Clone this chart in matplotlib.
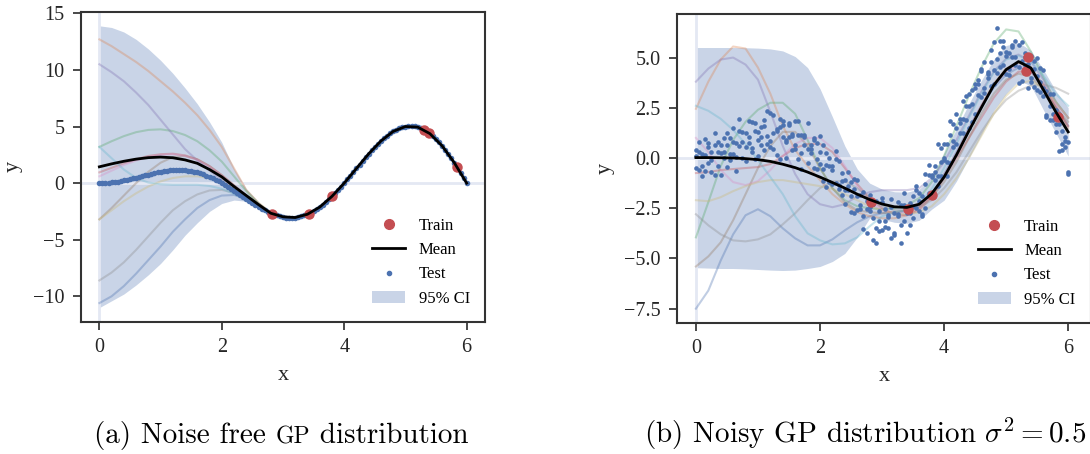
import matplotlib
matplotlib.use("Agg")
import matplotlib.pyplot as plt
from matplotlib.lines import Line2D
from matplotlib.patches import Patch

plt.rcParams.update({
    "font.family": ["Liberation Serif", "DejaVu Serif"],
    "mathtext.fontset": "cm",
    "axes.unicode_minus": True,
})

# ---------------- data ----------------
grid_x = [0.0, 0.2, 0.4, 0.6, 0.8, 1.0, 1.2, 1.4, 1.6, 1.8, 2.0, 2.2, 2.4, 2.6, 2.8, 3.0,
          3.2, 3.4, 3.6, 3.8, 4.0, 4.2, 4.4, 4.6, 4.8, 5.0, 5.2, 5.4, 5.6, 5.8, 6.0]
sample_x_left = [0.0, 0.2, 0.4, 0.6, 0.8, 1.0, 1.2, 1.4, 1.6, 1.8, 2.0, 2.2, 2.4, 2.6, 2.8, 3.0]

test_x = [0.00, 0.05, 0.10, 0.15, 0.20, 0.25, 0.30, 0.35, 0.40, 0.45,
          0.50, 0.55, 0.60, 0.65, 0.70, 0.75, 0.80, 0.85, 0.90, 0.95,
          1.00, 1.05, 1.10, 1.15, 1.20, 1.25, 1.30, 1.35, 1.40, 1.45,
          1.50, 1.55, 1.60, 1.65, 1.70, 1.75, 1.80, 1.85, 1.90, 1.95,
          2.00, 2.05, 2.10, 2.15, 2.20, 2.25, 2.30, 2.35, 2.40, 2.45,
          2.50, 2.55, 2.60, 2.65, 2.70, 2.75, 2.80, 2.85, 2.90, 2.95,
          3.00, 3.05, 3.10, 3.15, 3.20, 3.25, 3.30, 3.35, 3.40, 3.45,
          3.50, 3.55, 3.60, 3.65, 3.70, 3.75, 3.80, 3.85, 3.90, 3.95,
          4.00, 4.05, 4.10, 4.15, 4.20, 4.25, 4.30, 4.35, 4.40, 4.45,
          4.50, 4.55, 4.60, 4.65, 4.70, 4.75, 4.80, 4.85, 4.90, 4.95,
          5.00, 5.05, 5.10, 5.15, 5.20, 5.25, 5.30, 5.35, 5.40, 5.45,
          5.50, 5.55, 5.60, 5.65, 5.70, 5.75, 5.80, 5.85, 5.90, 5.95,
          6.00]

# (a) noise free
left_test_y = [0.00, 0.00, 0.02, 0.04, 0.06, 0.10, 0.14, 0.18, 0.24, 0.29,
               0.35, 0.42, 0.49, 0.55, 0.62, 0.69, 0.76, 0.83, 0.89, 0.95,
               1.00, 1.05, 1.09, 1.12, 1.14, 1.15, 1.16, 1.15, 1.13, 1.10,
               1.06, 1.01, 0.94, 0.86, 0.77, 0.67, 0.56, 0.43, 0.30, 0.15,
               0.00, -0.16, -0.33, -0.50, -0.68, -0.86, -1.04, -1.23, -1.41, -1.59,
               -1.77, -1.94, -2.10, -2.26, -2.41, -2.54, -2.66, -2.77, -2.86, -2.94,
               -3.00, -3.04, -3.06, -3.06, -3.04, -3.00, -2.94, -2.86, -2.75, -2.62,
               -2.48, -2.31, -2.12, -1.91, -1.68, -1.44, -1.17, -0.90, -0.61, -0.31,
               0.00, 0.32, 0.64, 0.97, 1.30, 1.63, 1.95, 2.27, 2.59, 2.89,
               3.18, 3.46, 3.72, 3.96, 4.19, 4.39, 4.57, 4.72, 4.84, 4.93,
               5.00, 5.03, 5.04, 5.01, 4.95, 4.85, 4.72, 4.56, 4.37, 4.14,
               3.89, 3.60, 3.29, 2.95, 2.59, 2.20, 1.79, 1.37, 0.92, 0.47,
               0.00]
left_mean = [1.44, 1.70, 1.93, 2.12, 2.25, 2.30, 2.24, 2.05, 1.75, 1.20, 0.55, -0.30, -1.10,
             -1.90, -2.66, -2.98, -3.04, -2.75, -2.12, -1.17, 0.00, 1.30, 2.59, 3.72, 4.57,
             5.00, 4.95, 4.37, 3.29, 1.79, 0.00]
left_upper = [13.9, 13.75, 13.35, 12.7, 11.85, 10.85, 9.7, 8.4, 7.0, 5.4, 3.6, 1.3, -0.5,
              -1.65, -2.6, -2.93, -3.0, -2.7, -2.07, -1.12, 0.05, 1.35, 2.64, 3.77, 4.62,
              5.05, 5.0, 4.42, 3.34, 1.84, 0.05]
left_lower = [-11.0, -10.4, -9.8, -9.0, -8.1, -7.1, -5.9, -4.6, -3.5, -2.5, -1.8, -1.5, -1.6,
              -2.15, -2.72, -3.03, -3.09, -2.8, -2.17, -1.22, -0.05, 1.25, 2.54, 3.67, 4.52,
              4.95, 4.9, 4.32, 3.24, 1.74, -0.05]
left_samples = [
    [-10.6, -10.0, -9.1, -8.0, -6.8, -5.6, -4.3, -3.2, -2.2, -1.5, -1.1, -1.05, -1.35, -1.95, -2.63, -2.97],
    [12.7, 12.1, 11.4, 10.7, 9.9, 9.0, 8.1, 7.1, 6.0, 4.7, 3.2, 1.3, -0.6, -1.75, -2.6, -2.95],
    [3.2, 3.7, 4.15, 4.5, 4.7, 4.75, 4.6, 4.25, 3.7, 2.9, 1.9, 0.6, -0.7, -1.8, -2.6, -2.95],
    [0.95, 1.35, 1.75, 2.1, 2.4, 2.55, 2.6, 2.45, 2.1, 1.5, 0.7, -0.2, -1.1, -1.9, -2.62, -2.97],
    [10.5, 9.8, 9.0, 8.0, 6.9, 5.6, 4.3, 3.0, 2.0, 1.1, 0.3, -0.5, -1.2, -1.95, -2.63, -2.97],
    [-3.2, -2.2, -1.1, 0.0, 1.0, 1.8, 2.3, 2.4, 2.1, 1.5, 0.7, -0.2, -1.1, -1.9, -2.62, -2.97],
    [0.6, 1.1, 1.6, 2.0, 2.3, 2.5, 2.55, 2.4, 2.05, 1.45, 0.65, -0.25, -1.15, -1.95, -2.63, -2.97],
    [-8.6, -7.9, -7.0, -5.9, -4.7, -3.5, -2.4, -1.6, -1.0, -0.65, -0.6, -0.85, -1.35, -2.0, -2.63, -2.97],
    [-3.2, -2.4, -1.6, -0.9, -0.3, 0.15, 0.45, 0.6, 0.6, 0.45, 0.15, -0.5, -1.2, -1.95, -2.63, -2.97],
    [3.2, 2.2, 1.2, 0.45, 0.05, -0.1, -0.15, -0.15, -0.15, -0.25, -0.5, -0.95, -1.55, -2.15, -2.65, -2.97],
]
left_train_x = [2.82, 3.42, 3.80, 5.31, 5.38, 5.84]
left_train_y = [-2.71, -2.70, -1.17, 4.65, 4.45, 1.45]

# (b) noisy
right_test_y_a = [0.40, -0.60, 0.22, 0.94, -0.24, -0.70, 0.64, 0.28, -0.86, 0.99,
                  0.65, 0.22, 1.49, 0.05, 0.62, 1.29, -0.14, 1.03, 0.49, 1.75,
                  0.90, 1.55, 0.39, 2.32, 0.84, 1.25, 0.16, 1.55, 1.83, 0.90,
                  1.06, 0.41, 1.84, 1.16, -0.53, 1.17, 0.46, 0.63, -0.50, 0.75,
                  1.10, -0.56, -0.33, -1.20, -0.38, -0.06, -1.54, -1.13, -1.61, -0.69,
                  -2.67, -1.54, -1.90, -2.56, -1.71, -3.74, -2.66, -2.27, -3.46, -2.64,
                  -2.20, -3.14, -3.46, -2.06, -3.74, -2.80, -2.34, -3.16, -3.75, -2.22,
                  -2.38, -1.41, -2.62, -1.91, -2.48, -0.84, -0.87, -1.10, 0.69, -0.91,
                  -0.10, 0.72, -0.26, 1.67, 1.50, 1.23, 1.95, 3.07, 1.49, 3.39,
                  3.48, 3.16, 4.32, 3.26, 4.29, 5.39, 4.37, 4.22, 5.24, 5.83,
                  4.20, 5.23, 5.04, 4.61, 5.65, 3.85, 5.22, 4.66, 3.77, 4.44,
                  4.99, 3.30, 3.49, 2.05, 3.19, 2.20, 1.29, 2.17, 0.72, 0.87,
                  -0.70]
right_test_y_b = [-0.50, 0.30, -0.88, 0.14, 0.76, -0.10, 1.24, -0.42, 0.64, 0.29,
                  -0.45, 1.02, 0.19, 0.75, 1.92, -0.01, 1.26, 0.73, 1.79, -0.05,
                  1.30, 0.65, 1.89, 1.12, 0.54, 2.15, 1.36, -0.05, 1.63, 0.80,
                  1.76, 1.11, 0.44, -0.04, 1.17, 0.67, 1.76, 0.23, 0.90, -0.55,
                  -0.30, 0.64, -1.43, 0.00, -0.58, -1.26, -0.14, -1.83, -1.11, -1.59,
                  -1.17, -2.74, -1.10, -2.36, -2.91, -2.14, -2.46, -4.07, -2.16, -3.14,
                  -3.60, -2.54, -2.96, -3.96, -2.74, -2.20, -3.34, -1.76, -2.75, -3.32,
                  -1.88, -2.51, -1.72, -2.91, -0.78, -1.74, -0.97, -0.40, -1.41, -0.21,
                  0.70, -0.18, 1.84, 0.87, 0.70, 1.93, 2.85, 1.87, 2.59, 1.79,
                  3.68, 3.66, 3.02, 4.76, 3.99, 4.79, 3.67, 6.47, 5.84, 4.63,
                  5.30, 4.43, 5.64, 5.01, 3.75, 5.75, 4.62, 5.06, 3.97, 4.84,
                  3.39, 3.80, 4.39, 2.15, 2.59, 1.90, 2.39, 0.37, 1.32, 0.57,
                  0.80]
right_test_y_c = [0.10, 0.80, -0.38, -0.66, 0.56, 0.30, -0.86, 0.78, 0.24, -0.01,
                  1.25, -0.08, 0.79, -0.65, 1.32, 0.79, 0.56, 1.83, 0.29, 1.35,
                  0.10, 1.05, 1.59, 0.72, 2.24, 0.45, 1.46, 1.95, 1.03, 0.00,
                  1.66, 1.21, 0.64, 1.86, 0.27, 1.07, -0.24, 0.43, 1.00, -0.05,
                  0.30, -1.16, 0.27, -0.40, -1.28, 0.34, -1.34, -0.73, -2.31, -1.39,
                  -1.87, -1.04, -2.60, -1.86, -3.51, -2.54, -1.86, -2.97, -4.25, -3.64,
                  -2.00, -3.44, -2.86, -2.46, -3.84, -2.90, -4.24, -2.36, -2.45, -2.72,
                  -2.98, -1.61, -2.12, -2.81, -1.28, -0.34, -1.77, -0.70, -0.91, 0.49,
                  0.00, -0.88, 1.14, 0.57, 2.20, 1.73, 1.25, 2.57, 3.19, 2.69,
                  2.18, 3.86, 4.42, 3.46, 4.19, 3.59, 5.77, 4.92, 4.54, 5.53,
                  5.10, 4.13, 5.54, 5.81, 4.55, 4.85, 5.02, 3.46, 5.07, 3.54,
                  4.09, 4.50, 3.09, 3.35, 1.89, 3.20, 1.69, 1.67, 0.42, 1.07,
                  -0.80]
right_mean = [0.02, 0.02, 0.01, 0.00, -0.03, -0.08, -0.17, -0.31, -0.48, -0.70, -0.95, -1.22,
              -1.50, -1.80, -2.07, -2.29, -2.43, -2.46, -2.30, -1.78, -0.95, 0.15, 1.35, 2.50,
              3.62, 4.40, 4.80, 4.48, 3.40, 2.30, 1.30]
right_upper = [5.50, 5.50, 5.50, 5.50, 5.49, 5.47, 5.43, 5.33, 5.05, 4.50, 3.45, 2.05, 0.60,
               -0.55, -1.25, -1.55, -1.68, -1.70, -1.55, -1.00, 0.25, 1.45, 2.70, 3.85, 4.90,
               5.60, 5.75, 5.35, 4.40, 3.35, 2.50]
right_lower = [-5.46, -5.48, -5.50, -5.50, -5.52, -5.55, -5.58, -5.60, -5.58, -5.50, -5.40,
               -5.15, -4.75, -3.95, -3.00, -3.05, -3.20, -3.25, -3.10, -2.55, -2.10, -1.15,
               0.00, 1.15, 2.35, 3.20, 3.85, 3.60, 2.40, 1.25, 0.10]
right_samples = [
    [-7.5, -6.6, -5.1, -3.8, -2.85, -2.55, -2.9, -3.5, -4.0, -4.35, -4.35, -4.05, -3.6, -3.2, -2.9, -2.75,
     -2.7, -2.65, -2.4, -1.8, -0.8, 0.3, 1.5, 2.6, 3.5, 4.15, 4.5, 4.3, 3.5, 2.5, 1.6],
    [2.45, 3.8, 4.9, 5.55, 5.45, 4.5, 3.2, 1.6, 0.4, -0.4, -1.1, -1.8, -2.3, -2.7, -2.9, -3.0,
     -3.0, -2.85, -2.5, -1.85, -0.9, 0.2, 1.4, 2.6, 3.7, 4.45, 4.75, 4.5, 3.6, 2.5, 1.5],
    [-3.95, -2.2, -0.4, 0.9, 1.8, 2.4, 2.75, 2.75, 2.2, 0.9, -0.5, -1.5, -2.1, -2.4, -2.5, -2.55,
     -2.5, -2.35, -2.0, -1.2, 0.1, 1.6, 3.1, 4.5, 5.7, 6.4, 6.3, 5.3, 4.0, 2.8, 2.0],
    [-0.75, -0.7, -0.6, -0.55, -0.5, -0.45, -0.3, 0.1, 0.5, 0.7, 0.7, 0.3, -0.5, -1.3, -2.0, -2.5,
     -2.8, -2.85, -2.6, -1.95, -1.0, 0.0, 1.0, 2.0, 3.0, 3.8, 4.3, 4.3, 3.7, 2.6, 1.6],
    [3.8, 4.45, 4.9, 5.0, 4.65, 3.9, 2.3, 0.6, -0.8, -1.8, -2.3, -2.45, -2.3, -1.9, -1.7, -1.6,
     -1.6, -1.6, -1.5, -1.0, -0.2, 0.9, 2.1, 3.3, 4.3, 4.95, 5.15, 4.8, 3.9, 2.8, 2.0],
    [-5.4, -4.9, -4.2, -3.1, -1.8, -0.5, 0.6, 1.3, 1.3, 0.6, -0.5, -1.5, -2.2, -2.6, -2.7, -2.75,
     -2.7, -2.6, -2.4, -1.95, -1.2, -0.2, 1.0, 2.2, 3.2, 3.9, 4.2, 4.05, 3.4, 2.5, 1.8],
    [1.0, 0.3, -0.6, -1.2, -1.35, -1.15, -0.6, 0.1, 0.7, 1.0, 1.0, 0.5, -0.4, -1.4, -2.2, -2.6,
     -2.75, -2.7, -2.45, -1.85, -0.9, 0.2, 1.45, 2.6, 3.6, 4.3, 4.6, 4.35, 3.6, 2.7, 2.0],
    [-2.8, -3.35, -3.8, -4.1, -4.15, -4.05, -3.8, -3.3, -2.75, -2.1, -1.5, -1.15, -1.15, -1.5, -2.0, -2.4,
     -2.6, -2.6, -2.45, -2.1, -1.5, -0.7, 0.3, 1.3, 2.2, 2.9, 3.35, 3.6, 3.65, 3.5, 3.2],
    [-2.1, -2.15, -1.95, -1.65, -1.4, -1.2, -1.1, -1.1, -1.2, -1.3, -1.4, -1.55, -1.8, -2.1, -2.4, -2.6,
     -2.75, -2.8, -2.7, -2.4, -1.8, -1.0, 0.0, 1.1, 2.2, 3.1, 3.7, 3.85, 3.5, 2.8, 2.0],
    [2.6, 2.35, 1.95, 1.4, 0.7, -0.1, -0.95, -1.8, -2.9, -3.75, -4.1, -4.3, -4.25, -3.95, -3.4, -2.9,
     -2.7, -2.6, -2.3, -1.55, -0.5, 0.7, 2.0, 3.2, 4.25, 4.9, 5.1, 4.8, 4.1, 3.2, 2.6],
]
right_train_x = [2.82, 3.42, 3.81, 5.32, 5.36, 5.84]
right_train_y = [-2.20, -2.53, -1.82, 4.35, 5.05, 2.02]

legend_labels = ["Train", "Mean", "Test", "95% CI"]
caption_a = [("(a) Noise free ", 21), ("GP", 17), (" distribution", 21)]
caption_b = [(r"(b) Noisy GP distribution $\sigma^2 = 0.5$", 21)]

# ---------------- style ----------------
PAL = ["#4C72B0", "#DD8452", "#55A868", "#C44E52", "#8172B3",
       "#937860", "#DA8BC3", "#8C8C8C", "#CCB974", "#64B5CD"]
BLUE, RED = PAL[0], PAL[3]
SPINE = "#333333"

W, H = 1090, 454
fig = plt.figure(figsize=(W / 100, H / 100), dpi=100)
ax1 = fig.add_axes([81 / W, 1 - 321.7 / H, 404 / W, 310 / H])
ax2 = fig.add_axes([677.3 / W, 1 - 322.7 / H, 413.2 / W, 308.7 / H])


def draw(ax, mean, upper, lower, sx, samples, test_sets, test_size, trx, trY):
    ax.fill_between(grid_x, lower, upper, color=BLUE, alpha=0.3, lw=0, zorder=1)
    ax.axhline(0, color="#e4e8f3", lw=2, zorder=1.5)
    ax.axvline(0, color="#e4e8f3", lw=2, zorder=1.5)
    for c, s in zip(PAL, samples):
        ax.plot(sx, s, color=c, alpha=0.35, lw=1.5, zorder=2)
    for ty in test_sets:
        ax.scatter(test_x, ty, s=test_size, color=BLUE, lw=0, zorder=3)
    ax.plot(trx, trY, "o", color=RED, ms=6.5, zorder=4)
    ax.plot(grid_x, mean, color="black", lw=2, zorder=5)

    for sp in ax.spines.values():
        sp.set_color(SPINE)
        sp.set_linewidth(1.5)
    ax.tick_params(direction="out", length=6, width=1.25, color=SPINE,
                   labelsize=14.5, labelcolor="#262626", pad=6)
    ax.set_xlabel("x", fontsize=16, color="#262626", labelpad=6)
    ax.set_ylabel("y", fontsize=16, color="#262626", labelpad=7)
    ax.set_xticks([0, 2, 4, 6])
    handles = [
        Line2D([], [], marker="o", ls="", color=RED, ms=7),
        Line2D([], [], color="black", lw=2),
        Line2D([], [], marker="o", ls="", color=BLUE, ms=3),
        Patch(facecolor=BLUE, alpha=0.3, lw=0),
    ]
    ax.legend(handles, legend_labels, loc="lower right", frameon=False, fontsize=12)


draw(ax1, left_mean, left_upper, left_lower, sample_x_left, left_samples,
     [left_test_y], 16, left_train_x, left_train_y)
draw(ax2, right_mean, right_upper, right_lower, grid_x, right_samples,
     [right_test_y_a, right_test_y_b, right_test_y_c], 11, right_train_x, right_train_y)
ax1.set_yticks([-10, -5, 0, 5, 10, 15])
ax2.set_yticks([-7.5, -5.0, -2.5, 0.0, 2.5, 5.0])
ax2.set_xlim(-0.3, 6.36)


def caption(pieces, cx_px, base_px):
    renderer = fig.canvas.get_renderer()
    texts, widths = [], []
    for s, size in pieces:
        t = fig.text(0, 1 - base_px / H, s, fontsize=size, family="cmr10",
                     va="baseline", ha="left", color="black")
        texts.append(t)
        widths.append(t.get_window_extent(renderer).width)
    total = sum(widths)
    x = min(cx_px - total / 2, W - 3 - total)
    for t, w in zip(texts, widths):
        t.set_x(x / W)
        x += w


caption(caption_a, 281, 443)
caption(caption_b, 865, 443)

fig.savefig("out.png", dpi=100)
